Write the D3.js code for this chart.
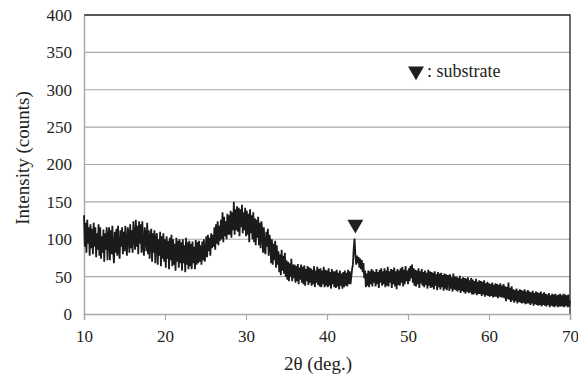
<!DOCTYPE html>
<html>
<head>
<meta charset="utf-8">
<script src="https://cdn.jsdelivr.net/npm/d3@7"></script>
<style>
  body { margin: 0; background: #fff; }
</style>
</head>
<body>
<svg id="chart" width="578" height="376"></svg>
<script>
// 2θ start / step (degrees) and intensity readings (counts)
const thetaStart = 10;
const thetaStep = 0.1;
const intensity = [
  132, 90, 122, 82, 126, 94, 116, 78, 120, 88,
  114, 80, 122, 90, 116, 76, 108, 86, 120, 78,
  116, 74, 104, 82, 113, 70, 108, 86, 116, 72,
  104, 116, 72, 112, 80, 118, 84, 68, 110, 82,
  114, 78, 118, 86, 74, 112, 90, 116, 80, 110,
  84, 118, 92, 78, 116, 106, 82, 120, 88, 112,
  82, 124, 104, 86, 126, 90, 118, 80, 124, 94,
  120, 82, 124, 92, 78, 116, 104, 84, 122, 80,
  112, 74, 102, 114, 70, 108, 82, 112, 68, 102,
  108, 66, 100, 78, 110, 64, 104, 74, 108, 70,
  100, 62, 104, 74, 98, 60, 102, 72, 106, 64,
  100, 66, 94, 58, 102, 70, 98, 62, 100, 68,
  96, 58, 100, 68, 92, 56, 102, 66, 96, 60,
  98, 64, 94, 60, 97, 68, 90, 60, 99, 66,
  96, 68, 98, 70, 92, 66, 97, 72, 100, 70,
  80, 104, 76, 106, 84, 102, 78, 108, 88, 106,
  90, 116, 86, 120, 94, 124, 92, 118, 98, 126,
  100, 136, 96, 130, 104, 124, 100, 134, 106, 132,
  106, 138, 102, 136, 112, 150, 106, 140, 112, 144,
  110, 142, 104, 140, 116, 146, 108, 136, 112, 142,
  104, 138, 106, 134, 96, 140, 108, 132, 100, 136,
  96, 128, 92, 126, 102, 130, 92, 122, 88, 124,
  112, 82, 116, 86, 80, 110, 90, 114, 78, 106,
  98, 68, 100, 66, 94, 72, 98, 62, 92, 66,
  84, 56, 80, 52, 86, 58, 78, 54, 82, 50,
  72, 46, 70, 44, 68, 50, 74, 44, 66, 48,
  66, 42, 64, 44, 67, 40, 62, 46, 66, 42,
  63, 40, 65, 38, 60, 44, 64, 39, 62, 42,
  61, 38, 59, 40, 64, 36, 58, 42, 63, 39,
  60, 37, 61, 36, 58, 40, 63, 36, 59, 38,
  58, 36, 61, 38, 56, 34, 60, 40, 57, 36,
  57, 35, 59, 37, 55, 33, 58, 38, 54, 34,
  56, 36, 58, 38, 55, 37, 59, 40, 57, 40,
  50, 60, 66, 88, 101, 80, 66, 78, 68, 76,
  62, 74, 60, 72, 56, 68, 48, 58, 36, 54,
  38, 58, 36, 57, 40, 60, 37, 58, 42, 56,
  37, 60, 40, 56, 35, 59, 42, 61, 38, 57,
  40, 61, 36, 58, 38, 63, 37, 57, 42, 60,
  35, 59, 40, 62, 37, 57, 33, 60, 39, 58,
  38, 61, 42, 63, 37, 59, 40, 64, 44, 58,
  40, 61, 44, 64, 48, 66, 42, 61, 38, 59,
  37, 58, 40, 61, 35, 57, 41, 60, 38, 56,
  36, 58, 39, 55, 34, 59, 38, 57, 35, 56,
  36, 55, 33, 57, 38, 53, 32, 56, 36, 54,
  33, 55, 36, 52, 31, 54, 34, 53, 32, 51,
  51, 31, 53, 34, 49, 30, 54, 33, 50, 32,
  50, 30, 48, 32, 51, 28, 47, 31, 49, 29,
  48, 27, 47, 30, 49, 28, 45, 29, 48, 26,
  46, 26, 44, 28, 47, 25, 43, 27, 45, 27,
  44, 24, 43, 26, 45, 23, 41, 25, 43, 24,
  41, 23, 40, 24, 42, 22, 39, 23, 41, 23,
  40, 21, 39, 23, 41, 22, 38, 22, 40, 21,
  37, 17, 36, 20, 42, 19, 35, 16, 37, 18,
  33, 15, 32, 17, 34, 14, 31, 16, 33, 15,
  32, 14, 31, 15, 33, 13, 30, 14, 32, 14,
  30, 12, 29, 14, 31, 11, 28, 13, 30, 12,
  29, 11, 28, 12, 30, 10, 27, 12, 29, 11,
  27, 10, 26, 12, 28, 9, 25, 11, 27, 10,
  26, 9, 27, 11, 25, 9, 26, 10, 27, 10,
  25, 10, 27, 9, 26, 11, 25, 9, 26, 10,
  18
];
const xTicks = [10, 20, 30, 40, 50, 60, 70];
const yTicks = [0, 50, 100, 150, 200, 250, 300, 350, 400];
const substratePeaks = [{ theta: 43.5, counts: 120 }];
const legendLabel = ": substrate";
const xTitle = "2θ (deg.)";
const yTitle = "Intensity (counts)";

const svg = d3.select("#chart");
const mLeft = 84, mRight = 570, mTop = 15, mBottom = 314;
const ink = "#231f20";
const font = '"Liberation Serif", "Times New Roman", Times, serif';

const x = d3.scaleLinear().domain([10, 70]).range([mLeft, mRight]);
const y = d3.scaleLinear().domain([0, 400]).range([mBottom, mTop]);

// gridlines
svg.append("g").selectAll("line").data(yTicks.filter(d => d > 0 && d < 400)).join("line")
  .attr("x1", mLeft).attr("x2", mRight)
  .attr("y1", d => y(d)).attr("y2", d => y(d))
  .attr("stroke", "#a7a9ac").attr("stroke-width", 1.2);

// top and right border
svg.append("path")
  .attr("d", `M${mLeft},${y(400)}H${mRight}V${mBottom}`)
  .attr("fill", "none").attr("stroke", ink).attr("stroke-width", 1.3);

// x axis
const xAxis = svg.append("g").attr("transform", `translate(0,${mBottom})`)
  .call(d3.axisBottom(x).tickValues(xTicks).tickSize(6).tickPadding(10).tickFormat(d3.format("d")))
  .attr("font-family", font).attr("font-size", 17);
xAxis.select(".domain").attr("stroke", "#a7a9ac").attr("stroke-width", 1.5);
xAxis.selectAll(".tick line").attr("stroke", "#a7a9ac").attr("stroke-width", 1.2);
xAxis.selectAll("text").attr("fill", ink);

// y axis
const yAxis = svg.append("g").attr("transform", `translate(${mLeft},0)`)
  .call(d3.axisLeft(y).tickValues(yTicks).tickSize(0).tickPadding(12).tickFormat(d3.format("d")))
  .attr("font-family", font).attr("font-size", 17);
yAxis.select(".domain").attr("stroke", "#a7a9ac").attr("stroke-width", 1.5);
yAxis.selectAll("text").attr("fill", ink);

// data line
const line = d3.line()
  .x((d, i) => x(thetaStart + i * thetaStep))
  .y(d => y(d));
svg.append("path").datum(intensity)
  .attr("d", line)
  .attr("fill", "none")
  .attr("stroke", "#1c1a1b")
  .attr("stroke-width", 1.8)
  .attr("stroke-linejoin", "miter");

// substrate markers
const tri = d3.symbol().type(d3.symbolTriangle).size(110);
svg.append("g").selectAll("path").data(substratePeaks).join("path")
  .attr("d", tri)
  .attr("transform", d => `translate(${x(d.theta)},${y(d.counts)}) rotate(180)`)
  .attr("fill", ink);

// legend
svg.append("path").attr("d", tri)
  .attr("transform", `translate(416,${y(325)}) rotate(180)`)
  .attr("fill", ink);
svg.append("text").attr("x", 427).attr("y", y(325) + 6)
  .attr("font-family", font).attr("font-size", 18).attr("fill", ink).text(legendLabel);

// axis titles
svg.append("text").attr("x", 318).attr("y", 370).attr("text-anchor", "middle")
  .attr("font-family", font).attr("font-size", 19).attr("fill", ink).text(xTitle);
svg.append("text").attr("transform", "translate(29,158) rotate(-90)")
  .attr("font-family", font).attr("text-anchor", "middle").attr("font-size", 19).attr("fill", ink).text(yTitle);
</script>
</body>
</html>
